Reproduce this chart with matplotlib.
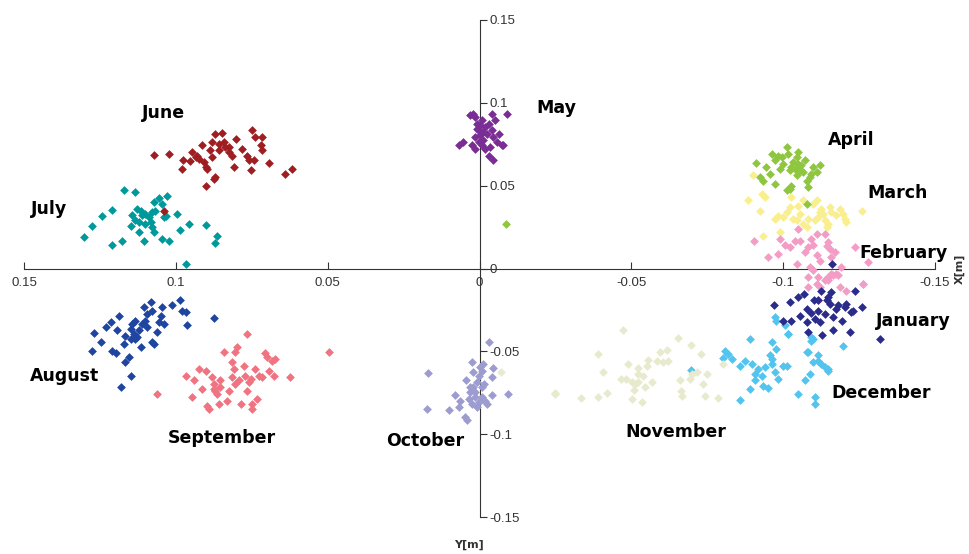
import matplotlib
matplotlib.use("Agg")
import matplotlib.pyplot as plt
from matplotlib.ticker import FixedLocator, FuncFormatter

# ---- data (X[m], Y[m]) per month ----
june_x = [0.1072, 0.1023, 0.0976, 0.0979, 0.0952, 0.0946, 0.0930, 0.0913, 0.0924, 0.0908, 0.0902, 0.0897,
          0.0880, 0.0872, 0.0848, 0.0859, 0.0842, 0.0837, 0.0826, 0.0815, 0.0809, 0.0802, 0.0782, 0.0765,
          0.0760, 0.0749, 0.0738, 0.0716, 0.0721, 0.0716, 0.0754, 0.0743, 0.0694, 0.0639, 0.0617, 0.0875,
          0.0870, 0.0902, 0.0889, 0.0859, 0.0826, 0.0880, 0.0935, 0.1039]
june_y = [0.0686, 0.0692, 0.0652, 0.0602, 0.0646, 0.0702, 0.0682, 0.0747, 0.0662, 0.0642, 0.0612, 0.0602,
          0.0763, 0.0813, 0.0819, 0.0753, 0.0763, 0.0733, 0.0702, 0.0682, 0.0612, 0.0783, 0.0723, 0.0682,
          0.0652, 0.0833, 0.0793, 0.0793, 0.0743, 0.0717, 0.0592, 0.0652, 0.0636, 0.0572, 0.0602, 0.0541,
          0.0552, 0.0501, 0.0713, 0.0713, 0.0733, 0.0672, 0.0672, 0.0350]

july_x = [0.1171, 0.1133, 0.1209, 0.1242, 0.1275, 0.1303, 0.1209, 0.1177, 0.1149, 0.1122, 0.1105, 0.1127,
          0.1116, 0.1111, 0.1100, 0.1089, 0.1078, 0.1072, 0.1056, 0.1029, 0.1045, 0.1067, 0.1083, 0.1078,
          0.1072, 0.1039, 0.1034, 0.0996, 0.0985, 0.0957, 0.0902, 0.0864, 0.0870, 0.1045, 0.1023, 0.0968,
          0.1144, 0.1122, 0.1100, 0.1133]
july_y = [0.0475, 0.0459, 0.0356, 0.0316, 0.0256, 0.0189, 0.0139, 0.0169, 0.0254, 0.0219, 0.0169, 0.0360,
          0.0350, 0.0320, 0.0330, 0.0310, 0.0340, 0.0401, 0.0427, 0.0435, 0.0391, 0.0350, 0.0280, 0.0250,
          0.0219, 0.0310, 0.0316, 0.0326, 0.0233, 0.0266, 0.0260, 0.0199, 0.0155, 0.0179, 0.0169, 0.0028,
          0.0320, 0.0280, 0.0270, 0.0290]

august_x = [0.1270, 0.1275, 0.1248, 0.1231, 0.1215, 0.1209, 0.1193, 0.1188, 0.1198, 0.1171, 0.1166, 0.1168,
            0.1155, 0.1149, 0.1182, 0.1149, 0.1144, 0.1138, 0.1133, 0.1127, 0.1122, 0.1116, 0.1105, 0.1100,
            0.1094, 0.1083, 0.1078, 0.1078, 0.1072, 0.1061, 0.1056, 0.1050, 0.1045, 0.1039, 0.1012, 0.0985,
            0.0979, 0.0968, 0.0963, 0.0875, 0.1111, 0.1133, 0.1149, 0.1094]
august_y = [-0.0391, -0.0499, -0.0445, -0.0354, -0.0324, -0.0495, -0.0374, -0.0284, -0.0509, -0.0455, -0.0405,
            -0.0566, -0.0535, -0.0646, -0.0717, -0.0364, -0.0334, -0.0395, -0.0314, -0.0415, -0.0374, -0.0475,
            -0.0233, -0.0314, -0.0354, -0.0203, -0.0254, -0.0445, -0.0455, -0.0384, -0.0324, -0.0284, -0.0233,
            -0.0334, -0.0223, -0.0193, -0.0254, -0.0264, -0.0344, -0.0300, -0.0334, -0.0425, -0.0425, -0.0274]

september_x = [0.1061, 0.0968, 0.0946, 0.0941, 0.0924, 0.0902, 0.0913, 0.0897, 0.0891, 0.0880, 0.0875, 0.0870,
               0.0859, 0.0864, 0.0853, 0.0842, 0.0831, 0.0826, 0.0815, 0.0815, 0.0809, 0.0804, 0.0798, 0.0804,
               0.0793, 0.0787, 0.0776, 0.0771, 0.0765, 0.0765, 0.0760, 0.0754, 0.0749, 0.0738, 0.0732, 0.0727,
               0.0716, 0.0705, 0.0700, 0.0694, 0.0683, 0.0678, 0.0672, 0.0623, 0.0497, 0.0875, 0.0853, 0.0749]
september_y = [-0.0757, -0.0646, -0.0777, -0.0676, -0.0606, -0.0616, -0.0727, -0.0827, -0.0847, -0.0656, -0.0696,
               -0.0737, -0.0817, -0.0757, -0.0676, -0.0505, -0.0797, -0.0737, -0.0656, -0.0566, -0.0606, -0.0505,
               -0.0475, -0.0696, -0.0676, -0.0817, -0.0586, -0.0646, -0.0395, -0.0737, -0.0686, -0.0666, -0.0817,
               -0.0606, -0.0787, -0.0646, -0.0656, -0.0511, -0.0535, -0.0616, -0.0556, -0.0646, -0.0545, -0.0656,
               -0.0505, -0.0727, -0.0717, -0.0847]

october_x = [0.0168, 0.0173, 0.0102, 0.0080, 0.0069, 0.0064, 0.0049, 0.0042, 0.0045, 0.0036, 0.0031, 0.0025,
             0.0025, 0.0020, 0.0014, 0.0009, 0.0009, 0.0003, -0.0002, -0.0008, -0.0008, -0.0013, -0.0016, -0.0019,
             -0.0024, -0.0030, -0.0041, -0.0041, -0.0046, -0.0095, 0.0031, 0.0020, 0.0003, -0.0008, 0.0014]
october_y = [-0.0632, -0.0847, -0.0857, -0.0761, -0.0837, -0.0797, -0.0898, -0.0914, -0.0676, -0.0787, -0.0717,
             -0.0566, -0.0817, -0.0626, -0.0747, -0.0686, -0.0837, -0.0807, -0.0596, -0.0616, -0.0777, -0.0576,
             -0.0696, -0.0797, -0.0817, -0.0445, -0.0656, -0.0761, -0.0602, -0.0757, -0.0747, -0.0717, -0.0646,
             -0.0717, -0.0777]

november_x = [-0.0249, -0.0334, -0.0391, -0.0419, -0.0389, -0.0408, -0.0474, -0.0466, -0.0481, -0.0488, -0.0501,
              -0.0510, -0.0512, -0.0521, -0.0523, -0.0534, -0.0539, -0.0545, -0.0550, -0.0556, -0.0567, -0.0583,
              -0.0594, -0.0605, -0.0622, -0.0616, -0.0655, -0.0660, -0.0663, -0.0666, -0.0693, -0.0698, -0.0701,
              -0.0715, -0.0731, -0.0737, -0.0748, -0.0742, -0.0786, -0.0803, -0.0523, -0.0501, -0.0072, -0.0250]
november_y = [-0.0753, -0.0781, -0.0773, -0.0753, -0.0515, -0.0626, -0.0374, -0.0666, -0.0666, -0.0576, -0.0787,
              -0.0733, -0.0696, -0.0600, -0.0686, -0.0807, -0.0646, -0.0717, -0.0586, -0.0552, -0.0686, -0.0556,
              -0.0505, -0.0566, -0.0556, -0.0491, -0.0421, -0.0676, -0.0737, -0.0767, -0.0666, -0.0459, -0.0636,
              -0.0626, -0.0515, -0.0696, -0.0636, -0.0767, -0.0781, -0.0576, -0.0636, -0.0686, -0.0622, -0.0755]

december_x = [-0.0696, -0.0808, -0.0819, -0.0803, -0.0830, -0.0857, -0.0857, -0.0874, -0.0890, -0.0890, -0.0896,
              -0.0907, -0.0907, -0.0918, -0.0929, -0.0934, -0.0940, -0.0951, -0.0956, -0.0962, -0.0962, -0.0962,
              -0.0973, -0.0978, -0.0984, -0.1000, -0.1011, -0.1005, -0.1016, -0.1049, -0.1071, -0.1077, -0.1088,
              -0.1093, -0.1099, -0.1104, -0.1104, -0.1115, -0.1126, -0.1137, -0.1148, -0.0973, -0.0978, -0.1016,
              -0.1099, -0.1082, -0.1115, -0.1148, -0.1197, -0.1093]
december_y = [-0.0612, -0.0495, -0.0515, -0.0539, -0.0545, -0.0586, -0.0793, -0.0556, -0.0425, -0.0727, -0.0576,
              -0.0636, -0.0676, -0.0606, -0.0646, -0.0707, -0.0596, -0.0721, -0.0525, -0.0445, -0.0545, -0.0576,
              -0.0626, -0.0485, -0.0666, -0.0586, -0.0586, -0.0344, -0.0395, -0.0757, -0.0676, -0.0505, -0.0636,
              -0.0415, -0.0566, -0.0777, -0.0817, -0.0525, -0.0576, -0.0596, -0.0616, -0.0294, -0.0314, -0.0395,
              -0.0425, -0.0505, -0.0556, -0.0606, -0.0465, -0.0435]

january_x = [-0.0970, -0.1000, -0.1022, -0.1027, -0.1055, -0.1069, -0.1077, -0.1082, -0.1093, -0.1102, -0.1115,
             -0.1121, -0.1126, -0.1128, -0.1137, -0.1143, -0.1154, -0.1159, -0.1161, -0.1164, -0.1164, -0.1175,
             -0.1181, -0.1194, -0.1203, -0.1208, -0.1219, -0.1225, -0.1230, -0.1236, -0.1258, -0.1318, -0.1148,
             -0.1104, -0.1077, -0.1049, -0.1115]
january_y = [-0.0223, -0.0318, -0.0203, -0.0314, -0.0284, -0.0153, -0.0244, -0.0384, -0.0270, -0.0193, -0.0254,
             -0.0324, -0.0133, -0.0401, -0.0274, -0.0193, -0.0213, -0.0143, 0.0028, -0.0294, -0.0374, -0.0244,
             -0.0223, -0.0314, -0.0233, -0.0213, -0.0384, -0.0264, -0.0254, -0.0133, -0.0233, -0.0425, -0.0173,
             -0.0304, -0.0324, -0.0173, -0.0193]

february_x = [-0.0905, -0.0951, -0.0984, -0.0989, -0.1005, -0.1022, -0.1044, -0.1049, -0.1055, -0.1071, -0.1082,
              -0.1088, -0.1093, -0.1099, -0.1110, -0.1110, -0.1121, -0.1137, -0.1143, -0.1148, -0.1154, -0.1159,
              -0.1099, -0.1082, -0.1110, -0.1121, -0.1137, -0.1148, -0.1159, -0.1175, -0.1181, -0.1186, -0.1192,
              -0.1236, -0.1263, -0.1280, -0.1170, -0.1038, -0.1082, -0.1115, -0.1148, -0.1208, -0.1263, -0.1115,
              -0.1164]
february_y = [0.0165, 0.0072, 0.0089, 0.0179, 0.0139, 0.0129, 0.0028, 0.0240, 0.0169, 0.0099, 0.0129,
              0.0008, 0.0179, 0.0139, 0.0209, 0.0079, 0.0048, 0.0209, 0.0133, 0.0159, 0.0119, 0.0068,
              -0.0012, -0.0052, -0.0093, -0.0113, -0.0072, -0.0052, -0.0032, -0.0032, -0.0042, -0.0113, 0.0008,
              0.0129, -0.0093, 0.0038, 0.0099, 0.0169, -0.0113, -0.0052, -0.0072, -0.0133, -0.0093, -0.0193,
              -0.0042]

march_x = [-0.0883, -0.0901, -0.0923, -0.0940, -0.0973, -0.0984, -0.0989, -0.1000, -0.1011, -0.1022, -0.1033,
           -0.1044, -0.1049, -0.1055, -0.1066, -0.1077, -0.1082, -0.1099, -0.1110, -0.1115, -0.1121, -0.1126,
           -0.1132, -0.1137, -0.1143, -0.1148, -0.1154, -0.1159, -0.1175, -0.1186, -0.1197, -0.1203, -0.1208,
           -0.1258, -0.0934, -0.0929, -0.1066, -0.1104, -0.1027]
march_y = [0.0411, 0.0562, 0.0350, 0.0431, 0.0300, 0.0314, 0.0219, 0.0310, 0.0340, 0.0370, 0.0300,
           0.0290, 0.0380, 0.0330, 0.0270, 0.0250, 0.0300, 0.0390, 0.0411, 0.0310, 0.0340, 0.0360,
           0.0330, 0.0290, 0.0250, 0.0270, 0.0370, 0.0340, 0.0320, 0.0360, 0.0330, 0.0300, 0.0280,
           0.0350, 0.0199, 0.0451, 0.0411, 0.0290, 0.0431]

april_x = [-0.0912, -0.0923, -0.0934, -0.0945, -0.0956, -0.0973, -0.0973, -0.0984, -0.0989, -0.0995, -0.1000,
           -0.1011, -0.1016, -0.1022, -0.1022, -0.1027, -0.1033, -0.1038, -0.1044, -0.1049, -0.1049, -0.1055,
           -0.1060, -0.1066, -0.1071, -0.1077, -0.1082, -0.1088, -0.1093, -0.1099, -0.1110, -0.1121, -0.1011,
           -0.1027, -0.1077, -0.0962, -0.1044, -0.0087]
april_y = [0.0636, 0.0552, 0.0531, 0.0612, 0.0572, 0.0652, 0.0511, 0.0682, 0.0602, 0.0672, 0.0632,
           0.0733, 0.0692, 0.0592, 0.0481, 0.0612, 0.0642, 0.0602, 0.0562, 0.0702, 0.0632, 0.0592,
           0.0622, 0.0582, 0.0652, 0.0531, 0.0491, 0.0552, 0.0572, 0.0612, 0.0582, 0.0622, 0.0471,
           0.0501, 0.0390, 0.0692, 0.0672, 0.0266]

may_x = [0.0069, 0.0053, 0.0031, 0.0020, 0.0014, 0.0009, 0.0014, 0.0003, -0.0002, -0.0008, -0.0013, -0.0019,
         -0.0024, -0.0030, -0.0030, -0.0035, -0.0041, -0.0046, -0.0046, -0.0052, -0.0057, -0.0063, -0.0073,
         -0.0079, -0.0090, 0.0014, 0.0025, -0.0008, -0.0019, 0.0003, -0.0013, 0.0009, -0.0041, -0.0002]
may_y = [0.0743, 0.0763, 0.0924, 0.0934, 0.0914, 0.0874, 0.0723, 0.0833, 0.0803, 0.0894, 0.0773, 0.0853,
         0.0813, 0.0874, 0.0682, 0.0733, 0.0934, 0.0652, 0.0793, 0.0894, 0.0763, 0.0813, 0.0743, 0.0743,
         0.0934, 0.0793, 0.0743, 0.0743, 0.0723, 0.0763, 0.0823, 0.0843, 0.0833, 0.0864]

months = ["January", "February", "March", "April", "May", "June", "July",
          "August", "September", "October", "November", "December"]
series_x = [january_x, february_x, march_x, april_x, may_x, june_x, july_x,
            august_x, september_x, october_x, november_x, december_x]
series_y = [january_y, february_y, march_y, april_y, may_y, june_y, july_y,
            august_y, september_y, october_y, november_y, december_y]
colors = ["#2B2B8C", "#F39CC6", "#F9EF8E", "#8EC640", "#7A2D94", "#9E1E22", "#00999B",
          "#1F45A0", "#F07381", "#9C9CD0", "#E8EACE", "#52C4EE"]
label_x = [-0.1428, -0.1395, -0.1378, -0.1224, -0.0253, 0.1040, 0.1418, 0.1368, 0.0849, 0.0178, -0.0645, -0.1322]
label_y = [-0.0314, 0.0091, 0.0453, 0.0773, 0.0966, 0.0936, 0.0362, -0.0646, -0.1021, -0.1039, -0.0984, -0.0749]

ticks = [0.15, 0.1, 0.05, 0, -0.05, -0.1, -0.15]

# ---- figure ----
W, H = 969, 554
fig = plt.figure(figsize=(W / 100, H / 100), dpi=100)
ax = fig.add_axes([24 / W, 1 - 517 / H, (935 - 24) / W, (517 - 20) / H])

draw_order = [11, 10, 9, 8, 7, 6, 5, 4, 2, 1, 0, 3]
for i in draw_order:
    ax.scatter(series_x[i], series_y[i], marker="D", s=20, color=colors[i],
               linewidths=0, zorder=3)

for i, m in enumerate(months):
    ax.text(label_x[i], label_y[i], m, ha="center", va="center", fontsize=12.5,
            fontweight="bold", family="DejaVu Sans", color="black", zorder=5)

ax.set_xlim(0.15, -0.15)
ax.set_ylim(-0.15, 0.15)

for s in ["top", "left"]:
    ax.spines[s].set_visible(False)
ax.spines["bottom"].set_position(("data", 0))
ax.spines["right"].set_position(("data", 0))
ax.spines["bottom"].set_color("#333333")
ax.spines["right"].set_color("#333333")

fmt = FuncFormatter(lambda v, p: "0" if abs(v) < 1e-12 else ("%g" % v))
ax.xaxis.set_major_locator(FixedLocator(ticks))
ax.yaxis.set_major_locator(FixedLocator(ticks))
ax.xaxis.set_major_formatter(fmt)
ax.yaxis.set_major_formatter(fmt)
ax.yaxis.tick_right()
ax.tick_params(axis="x", direction="in", length=5, color="#333333", labelsize=9.5,
               labelcolor="#333333", pad=6)
ax.tick_params(axis="y", direction="out", length=5, color="#333333", labelsize=9.5,
               labelcolor="#333333", pad=2)
for lab in ax.get_xticklabels() + ax.get_yticklabels():
    lab.set_family("Liberation Sans")

ax.text(-0.1582, 0.0, "X[m]", rotation=90, ha="center", va="center", fontsize=8,
        fontweight="bold", color="#333333", clip_on=False)
ax.text(0.0036, -0.167, "Y[m]", ha="center", va="center", fontsize=8,
        fontweight="bold", color="#333333", clip_on=False)

fig.savefig("out.png", dpi=100)
